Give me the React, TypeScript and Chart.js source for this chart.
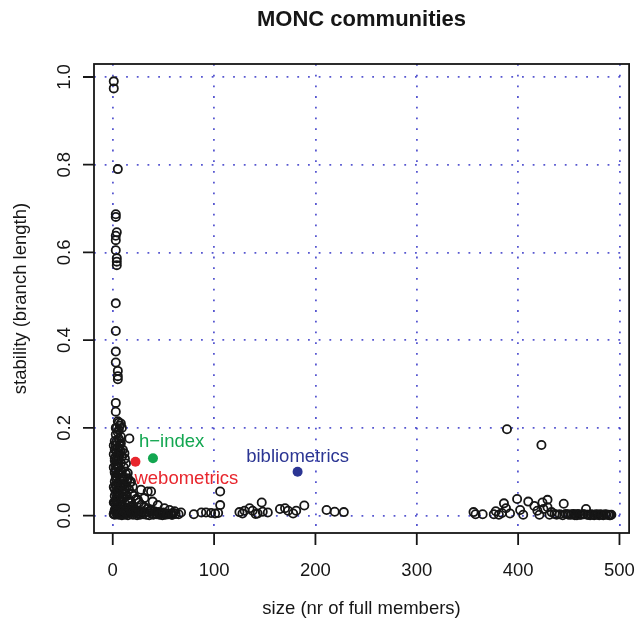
import React, { useEffect, useRef } from "react";
import { Chart, registerables } from "chart.js";

Chart.register(...registerables);

// Community size (number of full members) and stability (branch length)
const smallSizes = [
  1, 1, 5, 3, 3, 4, 3, 3, 3, 4,
  4, 4, 3, 3, 3, 3, 5, 5, 5, 3,
  3, 5, 6, 8, 7, 9, 4, 6, 3, 2,
  3, 5, 2, 4, 7, 3, 6, 2, 8, 4,
  5, 3, 9, 2, 6, 4, 10, 3, 7, 2,
  5, 11, 3, 8, 4, 6, 2, 12, 9, 3,
  5, 7, 2, 14, 4, 10, 6, 3, 8, 16,
  2, 5, 12, 7, 3, 18, 9, 4, 6, 14,
  2, 20, 8, 11, 3, 5, 16, 22, 7, 1,
  10, 13, 4, 18, 25, 2, 6, 9, 12, 15,
  20, 24, 27, 30, 33, 36, 40, 43, 46, 49,
  52, 55, 58, 62, 65, 8, 10, 12, 1, 1,
  1, 6, 9, 11, 13, 15, 17, 14, 16, 19,
  21, 23, 26, 28, 31, 34, 37, 41, 45, 48,
  53, 57, 60, 16.4, 8, 11.5, 13, 14.8, 18, 19.7,
  27.9, 34.5, 37.8, 31.2, 24.7, 39.4, 44.4, 51, 56, 61,
  67.4, 1, 2, 3, 4, 5, 6, 7, 8, 9,
  10, 2, 3, 4, 5, 6, 7, 8, 9, 10,
  11, 1, 3, 5, 7, 9, 11, 13, 15, 17,
  19, 4, 6, 8, 10, 12, 14, 16, 18, 20,
  23, 26, 29, 32, 35, 38, 42, 47, 50, 54,
  59, 2, 4, 6, 8, 1, 3, 5, 7, 12,
  14,
];
const smallStability = [
  0.990, 0.974, 0.790, 0.687, 0.681, 0.646, 0.638, 0.628, 0.605, 0.587,
  0.579, 0.571, 0.484, 0.421, 0.374, 0.349, 0.330, 0.318, 0.311, 0.257,
  0.237, 0.215, 0.212, 0.210, 0.205, 0.200, 0.200, 0.195, 0.185, 0.170,
  0.160, 0.155, 0.150, 0.145, 0.140, 0.135, 0.130, 0.125, 0.120, 0.118,
  0.110, 0.105, 0.100, 0.098, 0.095, 0.090, 0.088, 0.085, 0.080, 0.078,
  0.075, 0.072, 0.070, 0.068, 0.065, 0.062, 0.060, 0.058, 0.055, 0.052,
  0.050, 0.048, 0.045, 0.045, 0.042, 0.040, 0.038, 0.035, 0.033, 0.032,
  0.030, 0.028, 0.027, 0.025, 0.022, 0.022, 0.020, 0.018, 0.016, 0.015,
  0.013, 0.013, 0.012, 0.010, 0.009, 0.008, 0.008, 0.007, 0.006, 0.005,
  0.005, 0.004, 0.003, 0.003, 0.004, 0.002, 0.002, 0.001, 0.002, 0.001,
  0.002, 0.001, 0.002, 0.003, 0.002, 0.001, 0.002, 0.003, 0.002, 0.001,
  0.002, 0.003, 0.002, 0.004, 0.003, 0.165, 0.150, 0.130, 0.110, 0.065,
  0.030, 0.110, 0.135, 0.110, 0.095, 0.085, 0.075, 0.065, 0.060, 0.050,
  0.045, 0.038, 0.030, 0.025, 0.020, 0.015, 0.012, 0.010, 0.008, 0.006,
  0.005, 0.004, 0.006, 0.176, 0.146, 0.142, 0.119, 0.097, 0.077, 0.066,
  0.059, 0.055, 0.055, 0.040, 0.036, 0.032, 0.024, 0.017, 0.013, 0.010,
  0.007, 0.003, 0.012, 0.025, 0.035, 0.045, 0.055, 0.065, 0.030, 0.040,
  0.020, 0.100, 0.115, 0.125, 0.140, 0.150, 0.160, 0.100, 0.085, 0.070,
  0.055, 0.160, 0.090, 0.060, 0.012, 0.070, 0.040, 0.050, 0.035, 0.030,
  0.020, 0.008, 0.005, 0.004, 0.012, 0.010, 0.005, 0.018, 0.010, 0.007,
  0.012, 0.008, 0.010, 0.007, 0.009, 0.006, 0.005, 0.004, 0.007, 0.003,
  0.002, 0.130, 0.170, 0.175, 0.180, 0.140, 0.200, 0.190, 0.170, 0.085,
  0.080,
];

const midSizes = [
  80, 87.5, 92, 97, 101, 104, 106, 106, 125, 128,
  130, 135, 138, 141, 143, 147, 148, 153, 165, 170,
  173, 178, 181, 189, 211, 219, 228,
];
const midStability = [
  0.003, 0.007, 0.007, 0.006, 0.005, 0.006, 0.024, 0.055, 0.008, 0.005,
  0.011, 0.017, 0.011, 0.004, 0.005, 0.030, 0.009, 0.007, 0.015, 0.017,
  0.011, 0.005, 0.011, 0.023, 0.013, 0.009, 0.008,
];

const largeSizes = [
  356, 358, 365, 376, 378, 381, 384, 386, 388, 389,
  392, 399, 402, 405, 410, 416, 419, 421, 423, 424,
  425, 429, 429, 431, 433, 436, 438, 441, 445, 447,
  450, 453, 456, 459, 462, 465, 467, 469, 472, 475,
  478, 481, 484, 487, 490, 492, 444, 449, 452, 455,
  458, 461, 464, 468, 471, 474, 477, 480, 483, 486,
  489, 491,
];
const largeStability = [
  0.008, 0.003, 0.003, 0.003, 0.010, 0.002, 0.006, 0.028, 0.017, 0.197,
  0.005, 0.038, 0.013, 0.002, 0.032, 0.022, 0.011, 0.002, 0.161, 0.030,
  0.015, 0.036, 0.019, 0.002, 0.008, 0.004, 0.002, 0.003, 0.027, 0.004,
  0.002, 0.003, 0.001, 0.004, 0.002, 0.003, 0.015, 0.002, 0.003, 0.001,
  0.002, 0.003, 0.001, 0.002, 0.001, 0.002, 0.001, 0.003, 0.002, 0.004,
  0.001, 0.002, 0.003, 0.002, 0.001, 0.002, 0.003, 0.001, 0.002, 0.003,
  0.002, 0.001,
];

// Highlighted communities
const highlightNames = ["webometrics", "h\u2212index", "bibliometrics"];
const highlightSizes = [22.4, 39.7, 182.4];
const highlightStability = [0.123, 0.131, 0.1];
const highlightColors = ["#e8262d", "#12a650", "#2b3593"];

const xTicks = [0, 100, 200, 300, 400, 500];
const yTicks = [0, 0.2, 0.4, 0.6, 0.8, 1.0];
const xTickLabels = ["0", "100", "200", "300", "400", "500"];
const yTickLabels = ["0.0", "0.2", "0.4", "0.6", "0.8", "1.0"];

const TITLE = "MONC communities";
const X_TITLE = "size (nr of full members)";
const Y_TITLE = "stability (branch length)";

const FONT = '"Liberation Sans", Arial, Helvetica, sans-serif';
const INK = "#161616";
const GRID = "rgba(58,58,200,0.85)";

const toPoints = (xs: number[], ys: number[]) => xs.map((x, i) => ({ x, y: ys[i] }));

const framePlugin = {
  id: "rframe",
  afterDraw(chart: any) {
    const { ctx, chartArea: a, scales } = chart;
    const xs = scales.x;
    const ys = scales.y;
    ctx.save();
    // plot box
    ctx.strokeStyle = INK;
    ctx.lineWidth = 1.8;
    ctx.strokeRect(a.left, a.top, a.right - a.left, a.bottom - a.top);

    // tick marks
    ctx.beginPath();
    xTicks.forEach((v) => {
      const px = xs.getPixelForValue(v);
      ctx.moveTo(px, a.bottom);
      ctx.lineTo(px, a.bottom + 12);
    });
    yTicks.forEach((v) => {
      const py = ys.getPixelForValue(v);
      ctx.moveTo(a.left, py);
      ctx.lineTo(a.left - 11, py);
    });
    ctx.stroke();

    ctx.fillStyle = INK;
    ctx.font = `18.5px ${FONT}`;
    ctx.textAlign = "center";
    ctx.textBaseline = "alphabetic";
    xTicks.forEach((v, i) => {
      ctx.fillText(xTickLabels[i], xs.getPixelForValue(v), 576);
    });
    yTicks.forEach((v, i) => {
      ctx.save();
      ctx.translate(70, ys.getPixelForValue(v));
      ctx.rotate(-Math.PI / 2);
      ctx.fillText(yTickLabels[i], 0, 0);
      ctx.restore();
    });

    // axis titles
    const cx = (a.left + a.right) / 2;
    const cy = (a.top + a.bottom) / 2;
    ctx.fillText(X_TITLE, cx, 614);
    ctx.save();
    ctx.translate(26, cy);
    ctx.rotate(-Math.PI / 2);
    ctx.fillText(Y_TITLE, 0, 0);
    ctx.restore();

    // main title
    ctx.font = `bold 22px ${FONT}`;
    ctx.fillText(TITLE, cx, 26);

    // labels for highlighted communities
    ctx.font = `18.5px ${FONT}`;
    const px = highlightSizes.map((v) => xs.getPixelForValue(v));
    const py = highlightStability.map((v) => ys.getPixelForValue(v));
    ctx.fillStyle = highlightColors[0];
    ctx.textAlign = "left";
    ctx.fillText(highlightNames[0], px[0] - 1, py[0] + 22.5);
    ctx.fillStyle = highlightColors[1];
    ctx.fillText(highlightNames[1], px[1] - 14, py[1] - 11.5);
    ctx.fillStyle = highlightColors[2];
    ctx.textAlign = "center";
    ctx.fillText(highlightNames[2], px[2], py[2] - 10);
    ctx.restore();
  },
};

export default function App() {
  const canvasRef = useRef<HTMLCanvasElement | null>(null);

  useEffect(() => {
    const canvas = canvasRef.current;
    if (!canvas) return;

    const openCircle = {
      pointRadius: 4.1,
      pointBorderWidth: 1.8,
      pointBorderColor: INK,
      pointBackgroundColor: "rgba(0,0,0,0)",
      showLine: false,
      clip: false as any,
    };

    const chart = new Chart(canvas, {
      type: "scatter",
      data: {
        datasets: [
          { data: toPoints(smallSizes, smallStability), ...openCircle },
          { data: toPoints(midSizes, midStability), ...openCircle },
          { data: toPoints(largeSizes, largeStability), ...openCircle },
          ...highlightNames.map((name, i) => ({
            label: name,
            data: [{ x: highlightSizes[i], y: highlightStability[i] }],
            pointRadius: 5,
            pointBorderWidth: 0,
            pointBackgroundColor: highlightColors[i],
            showLine: false,
            clip: false as any,
          })),
        ],
      },
      options: {
        animation: false,
        responsive: false,
        maintainAspectRatio: false,
        events: [],
        layout: { padding: { left: 94, top: 64, right: 5, bottom: 91 } },
        plugins: {
          legend: { display: false },
          tooltip: { enabled: false },
          title: { display: false },
        },
        scales: {
          x: {
            type: "linear",
            min: -18.5,
            max: 509.5,
            afterBuildTicks: (s: any) => {
              s.ticks = xTicks.map((value) => ({ value }));
            },
            afterFit: (s: any) => {
              s.height = 0;
            },
            ticks: { display: false },
            border: { display: false, dash: [1.8, 8.9] },
            grid: { color: GRID, lineWidth: 1.8, drawTicks: false },
          },
          y: {
            type: "linear",
            min: -0.0396,
            max: 1.0296,
            afterBuildTicks: (s: any) => {
              s.ticks = yTicks.map((value) => ({ value }));
            },
            afterFit: (s: any) => {
              s.width = 0;
            },
            ticks: { display: false },
            border: { display: false, dash: [1.8, 8.9] },
            grid: { color: GRID, lineWidth: 1.8, drawTicks: false },
          },
        },
      },
      plugins: [framePlugin],
    });

    return () => chart.destroy();
  }, []);

  return (
    <div style={{ position: "fixed", left: 0, top: 0, width: 635, height: 624, background: "#fff" }}>
      <canvas ref={canvasRef} width={635} height={624} style={{ display: "block" }} />
    </div>
  );
}
